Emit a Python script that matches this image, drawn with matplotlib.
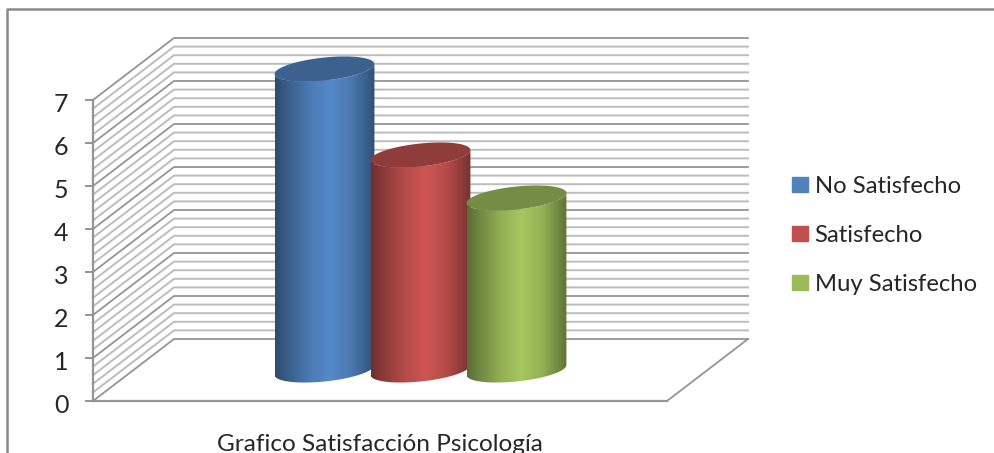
import numpy as np
import matplotlib
matplotlib.use("Agg")
import matplotlib.pyplot as plt
from matplotlib.lines import Line2D
from matplotlib.patches import Patch, Polygon
from matplotlib.transforms import ScaledTranslation

series = ["No Satisfecho", "Satisfecho", "Muy Satisfecho"]
values = [7, 5, 4]
colors = ["#4f81bd", "#c0504d", "#9bbb59"]
category = "Grafico Satisfacción Psicología"
y_ticks = [0, 1, 2, 3, 4, 5, 6, 7]

W, H = 995, 453
GRID = "#bcbcbc"
MAJOR = "#949494"
TEXT = "#262626"

# oblique projection: how far the back wall is shifted, in data units
DEPTH_X = 81 / 96
DEPTH_Y = 62 / 43
BAR_A = 0.52      # half width of a cylinder
BAR_B = 11.5 / 43 # half height of its end ellipse
BAR_S = 5 / 43    # rise of the ellipse across its half width

plt.rcParams["font.family"] = ["Lato", "DejaVu Sans"]

fig = plt.figure(figsize=(W / 100, H / 100), dpi=100, facecolor="white")
ax = fig.add_axes([93 / W, (H - 401) / H, 574 / W, 301 / H])
ax.patch.set_alpha(0)


def ellipse(cx, cy, t):
    return cx + BAR_A * np.cos(t), cy + BAR_S * np.cos(t) + BAR_B * np.sin(t)


# walls
for level in np.arange(0, 7.01, 0.2):
    is_major = abs(level - round(level)) < 1e-6
    c = MAJOR if is_major else GRID
    lw = 1.3 if is_major else 1.4
    ax.plot([-2.99, -2.99 + DEPTH_X, 2.99 + DEPTH_X],
            [level, level + DEPTH_Y, level + DEPTH_Y],
            color=c, lw=lw, clip_on=False, zorder=1)

# floor edge on the right
ax.plot([2.99, 2.99 + DEPTH_X], [0, DEPTH_Y], color=MAJOR, lw=1.3, clip_on=False, zorder=1)

# cylinders, later ones in front
shade_x = [0, 0.12, 0.35, 0.55, 0.75, 0.9, 1]
shade_v = [0.58, 0.72, 0.95, 1.07, 0.95, 0.75, 0.62]
shade = np.interp(np.linspace(0, 1, 256), shade_x, shade_v)

for i, (val, col) in enumerate(zip(values, colors)):
    rgb = np.array(matplotlib.colors.to_rgb(col))
    cx = i - 1 + DEPTH_X / 2
    base = DEPTH_Y / 2
    top = base + val

    lower = np.linspace(np.pi, 2 * np.pi, 60)
    bx, by = ellipse(cx, base, lower)
    tx, ty = ellipse(cx, top, lower[::-1])
    body = Polygon(np.column_stack([np.r_[bx, tx], np.r_[by, ty]]),
                   transform=ax.transData, fc="none", ec="none")
    ax.add_patch(body)

    img = np.clip(shade[None, :, None] * rgb, 0, 1)
    im = ax.imshow(img, extent=[cx - BAR_A, cx + BAR_A, base - 1, top + 1],
                   aspect="auto", interpolation="bilinear", zorder=2 + i)
    im.set_clip_path(body)
    im.set_clip_box(fig.bbox)

    t = np.linspace(0, 2 * np.pi, 120)
    ex, ey = ellipse(cx, top, t)
    ax.fill(ex, ey, color=rgb * 0.75, lw=0, clip_on=False, zorder=2 + i)

ax.set_xlim(-2.99, 2.99)
ax.set_ylim(0, 7)

for name in ["top", "right"]:
    ax.spines[name].set_visible(False)
for name in ["left", "bottom"]:
    ax.spines[name].set_color(MAJOR)
    ax.spines[name].set_linewidth(1.6)

ax.set_yticks(y_ticks)
ax.tick_params(axis="y", length=5.8, width=1.4, color=MAJOR, labelsize=18,
               labelcolor=TEXT, pad=12)
# nudge the value labels down a little
nudge = ScaledTranslation(0, -1.5 / 72, fig.dpi_scale_trans)
for lab in ax.get_yticklabels():
    lab.set_transform(lab.get_transform() + nudge)

ax.set_xticks([0])
ax.set_xticklabels([category])
ax.tick_params(axis="x", length=0, labelsize=17.6, labelcolor=TEXT, pad=24)

handles = [Patch(color=c) for c in colors]
fig.legend(handles, series, loc="upper left", bbox_to_anchor=(792 / W, 1 - 176 / H),
           frameon=False, fontsize=17.2, labelcolor=TEXT, handlelength=0.68,
           handleheight=0.64, handletextpad=0.27, labelspacing=1.17,
           borderpad=0, borderaxespad=0)

# outer frame of the chart, open on the right and at the bottom
fig.add_artist(Line2D([7 / W, 7 / W, 1], [0, 1 - 9 / H, 1 - 9 / H],
                      color="#8a8a8a", lw=1.8, transform=fig.transFigure))

fig.savefig("out.png", dpi=100)
